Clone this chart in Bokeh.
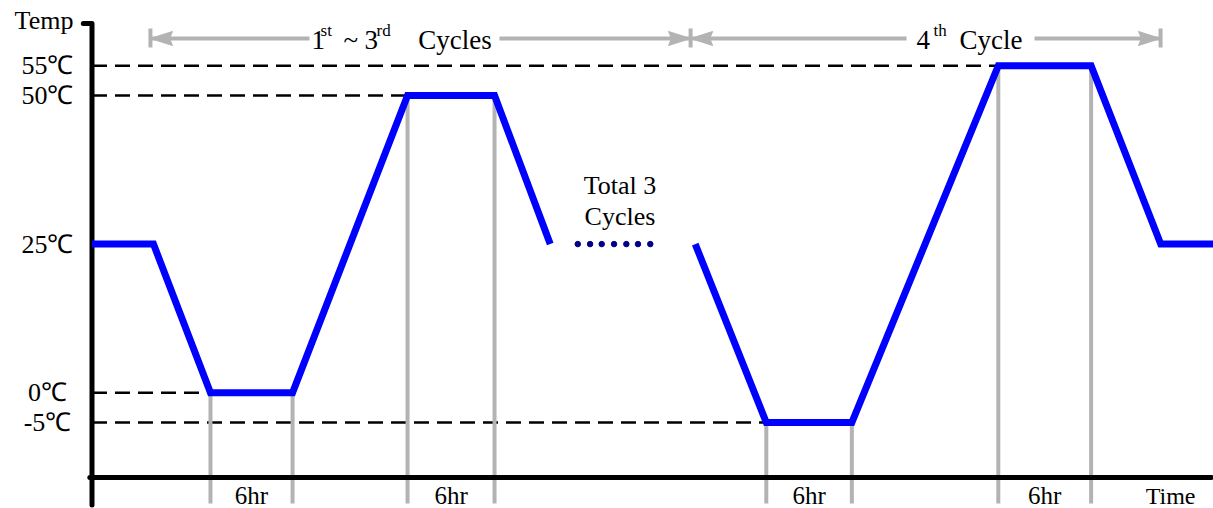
from bokeh.plotting import figure
from bokeh.models import Range1d
from bokeh.core.properties import value
from bokeh.embed import file_html
from bokeh.resources import INLINE

# ---------------- data (time in hours, temperature in deg C) ----------------
cycle1_time = [0.0, 4.24, 8.17, 13.83, 21.76, 27.76, 31.6]
cycle1_temp = [25, 25, 0, 0, 50, 50, 25]
cycle4_time = [41.6, 46.5, 52.4, 62.5, 68.9, 73.7, 77.6]
cycle4_temp = [25, -5, -5, 55, 55, 25, 25]
dots_time = [33.5, 34.35, 35.15, 36.0, 36.85, 37.65, 38.5]
dots_temp = [25, 25, 25, 25, 25, 25, 25]
temp_ticks = [55, 50, 25, 0, -5]
temp_labels = ["55℃", "50℃", "25℃", "0℃", "-5℃"]
hold_start = [8.17, 21.76, 46.5, 62.5]
hold_end = [13.83, 27.76, 52.4, 68.9]
hold_temp = [0, 50, -5, 55]
hold_labels = ["6hr", "6hr", "6hr", "6hr"]
bracket_time = [4.03, 41.28, 73.69]
# ---------------------------------------------------------------------------

FONT = value("Liberation Serif")
GRAY = "#B3B3B3"
X0, X1 = -6.31, 77.34
Y0, Y1 = -19.47, 65.97

p = figure(width=1213, height=508, x_range=Range1d(X0, X1), y_range=Range1d(Y0, Y1),
           x_axis_type=None, y_axis_type=None, toolbar_location=None,
           output_backend="svg", min_border=0, outline_line_color=None)
p.grid.visible = False
p.background_fill_color = "white"
p.border_fill_color = "white"

# dashed reference lines from the temperature axis to the start of each hold
p.segment(x0=[0] * len(hold_temp), y0=hold_temp, x1=hold_start, y1=hold_temp,
          line_color="black", line_width=2.5, line_dash="15 8")

# gray hold markers
p.segment(x0=hold_start + hold_end, y0=hold_temp + hold_temp,
          x1=hold_start + hold_end, y1=[-18.63] * (2 * len(hold_temp)),
          line_color=GRAY, line_width=4)

# axes (drawn as thick lines)
p.line(x=[-0.6, 0, 0], y=[62.1, 62.1, -18.9], line_color="black", line_width=5,
       line_cap="round", line_join="round")
p.line(x=[-0.15, 77.2], y=[-14.25, -14.25], line_color="black", line_width=5,
       line_cap="round")

# temperature profile
p.line(x=cycle1_time, y=cycle1_temp, line_color="#0000FF", line_width=7, line_join="miter")
p.line(x=cycle4_time, y=cycle4_temp, line_color="#0000FF", line_width=7, line_join="miter")
p.scatter(x=dots_time, y=dots_temp, size=5.5, marker="circle",
          fill_color="#00008B", line_color="#00008B")

# cycle brackets
ya = 59.58
p.segment(x0=bracket_time, y0=[61.27] * 3, x1=bracket_time, y1=[58.07] * 3,
          line_color=GRAY, line_width=4)
p.segment(x0=[15.0, 28.1, 56.17, 65.0],
          y0=[ya] * 4,
          x1=[bracket_time[0], bracket_time[1], bracket_time[1], bracket_time[2]],
          y1=[ya] * 4, line_color=GRAY, line_width=4)
hl, hw, notch = 1.52, 1.18, 0.2
heads_x, heads_y = [], []
for tip, d in [(bracket_time[0], 1), (bracket_time[1], -1), (bracket_time[1], 1), (bracket_time[2], -1)]:
    heads_x.append([tip, tip + d * hl, tip + d * (hl - notch), tip + d * hl])
    heads_y.append([ya, ya + hw, ya, ya - hw])
p.patches(xs=heads_x, ys=heads_y, fill_color=GRAY, line_color=GRAY, line_width=1)

# texts (all vertically centred)
common = dict(text_font=FONT, text_baseline="middle", text_color="black")
p.text(x=[-3.07] * len(temp_ticks), y=temp_ticks, text=temp_labels,
       text_font_size="26px", text_align="center", **common)
p.text(x=[-3.31], y=[62.55], text=["Temp"], text_font_size="26px", text_align="center", **common)
p.text(x=[(a + b) / 2 for a, b in zip(hold_start, hold_end)], y=[-17.35] * 4, text=hold_labels,
       text_font_size="25px", text_align="center", **common)
p.text(x=[74.38], y=[-17.35], text=["Time"], text_font_size="24px", text_align="center", **common)
p.text(x=[36.41, 36.41], y=[34.86, 29.64], text=["Total 3", "Cycles"],
       text_font_size="26px", text_align="center", **common)
# bracket titles
p.text(x=[15.14, 17.34, 18.79, 22.5, 56.86, 59.83], y=[59.41] * 6,
       text=["1", "~", "3", "Cycles", "4", "Cycle"], text_font_size="27px",
       text_align="left", **common)
p.text(x=[15.76, 19.62, 58.03], y=[60.9] * 3, text=["st", "rd", "th"],
       text_font_size="17px", text_align="left", **common)

open("out.html", "w").write(file_html(p, INLINE))
